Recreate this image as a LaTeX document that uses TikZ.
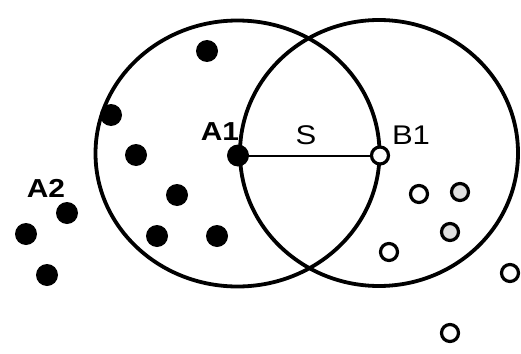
\documentclass[tikz,border=0pt]{standalone}
\usepackage{fontspec}
\setmainfont{Liberation Sans}
\begin{document}
\begin{tikzpicture}[x=1pt,y=-1pt,
  ring/.style={draw=black,line width=3.8pt},
  fdot/.style={circle,fill=black,inner sep=0pt,minimum size=22pt},
  odot/.style={circle,draw=black,fill=white,line width=3.2pt,inner sep=0pt,minimum size=17pt},
  gdot/.style={odot,fill=black!12},
  lab/.style={inner sep=0pt,font=\fontsize{27}{27}\selectfont,xscale=1.15},
  blab/.style={lab,font=\fontsize{26}{26}\selectfont\bfseries}]
\useasboundingbox (0,0) rectangle (521,353);
\fill[white] (0,0) rectangle (521,353);
% circles
\draw[ring] (237.5,153.5) ellipse [x radius=142, y radius=133];
\draw[ring] (379,153) ellipse [x radius=139, y radius=133];
% filled dots
\node[fdot] (d1) at (207,51) {};
\node[fdot] (d2) at (111,115) {};
\node[fdot] (d3) at (136,155) {};
\node[fdot] (d4) at (177,195) {};
\node[fdot] (d5) at (157,236) {};
\node[fdot] (d6) at (217,236) {};
\node[fdot] (e1) at (67,213) {};
\node[fdot] (e2) at (26,234) {};
\node[fdot] (e3) at (47,275) {};
\node[fdot] (a1) at (238,155.5) {};
% open dots
\node[odot] (b1) at (380,155.5) {};
\draw[line width=2pt] (a1.center) -- (b1.west);
\node[odot] (o1) at (419,194) {};
\node[gdot] (o2) at (460,192) {};
\node[gdot] (o3) at (450,232) {};
\node[odot] (o4) at (389,252) {};
\node[odot] (o5) at (510,273) {};
\node[odot] (o6) at (450,333) {};
% labels
\node[blab] (la1) at (220,132) {A1};
\node[blab] (la2) at (46,188.5) {A2};
\node[lab] (ls) at (306,135) {S};
\node[lab] (lb1) at (411,135) {B1};
\end{tikzpicture}
\end{document}
